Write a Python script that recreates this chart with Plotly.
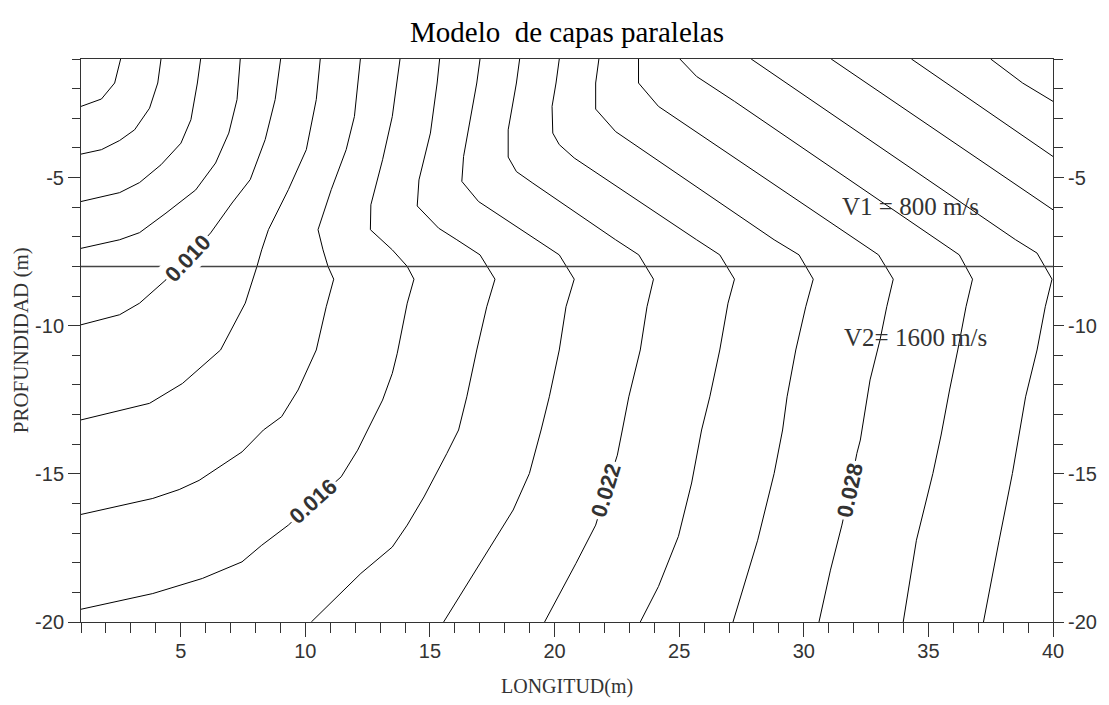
import plotly.graph_objects as go

# ---------------- data ----------------
title_text = "Modelo  de capas paralelas"
x_title = "LONGITUD(m)"
y_title = "PROFUNDIDAD (m)"

x_range = [1, 40]
y_range = [-20, -1]
x_tickvals = [5, 10, 15, 20, 25, 30, 35, 40]
y_tickvals = [-20, -15, -10, -5]
interface_depth = -8

levels = [0.002, 0.004, 0.006, 0.008, 0.010, 0.012, 0.014, 0.016, 0.018, 0.020,
          0.022, 0.024, 0.026, 0.028, 0.030, 0.032, 0.034, 0.036, 0.038]

c01_x = [2.59, 2.35, 1.82, 1.0]
c01_y = [-1.0, -1.81, -2.35, -2.60]
c02_x = [4.21, 4.08, 3.75, 3.15, 2.55, 1.82, 1.0]
c02_y = [-1.0, -1.81, -2.66, -3.39, -3.75, -4.06, -4.21]
c03_x = [5.80, 5.67, 5.41, 5.01, 4.21, 3.35, 2.55, 1.0]
c03_y = [-1.0, -1.81, -3.05, -3.84, -4.57, -5.17, -5.51, -5.81]
c04_x = [7.39, 7.26, 6.93, 6.40, 5.60, 4.41, 3.35, 2.55, 1.0]
c04_y = [-1.0, -2.37, -3.50, -4.51, -5.42, -6.20, -6.86, -7.10, -7.39]
c05_x = [9.01, 8.79, 8.39, 7.79, 7.06, 6.20, 5.27, 4.41, 3.35, 2.55, 1.0]
c05_y = [-1.0, -2.37, -3.72, -5.07, -5.86, -6.87, -7.72, -8.45, -9.24, -9.63, -9.97]
c06_x = [10.60, 10.44, 10.04, 9.32, 8.52, 8.25, 8.06, 7.59, 6.60, 5.07, 3.75, 1.0]
c06_y = [-1.0, -2.37, -4.06, -5.41, -6.76, -7.44, -8.0, -9.24, -10.82, -11.95, -12.62, -13.18]
c07_x = [12.21, 11.97, 11.64, 11.04, 10.51, 10.71, 10.91, 11.14, 10.84, 10.44, 9.71, 9.05,
         8.32, 7.46, 5.74, 4.94, 3.88, 1.0]
c07_y = [-1.0, -2.94, -4.06, -5.41, -6.76, -7.44, -8.0, -8.43, -9.36, -10.82, -12.17, -13.07,
         -13.52, -14.26, -15.22, -15.53, -15.83, -16.37]
c08_x = [13.80, 13.49, 13.10, 12.63, 12.61, 13.49, 14.09, 14.36, 14.09, 13.69, 13.49, 13.10,
         12.50, 12.10, 11.44, 10.31, 9.32, 8.25, 7.46, 5.87, 3.88, 1.0]
c08_y = [-1.0, -2.94, -4.40, -5.92, -6.76, -7.44, -8.0, -8.43, -9.24, -10.93, -11.61, -12.51,
         -13.52, -14.20, -15.10, -15.95, -16.73, -17.41, -17.97, -18.53, -19.04, -19.57]
c09_x = [15.39, 15.29, 15.02, 14.69, 14.56, 14.49, 15.35, 16.08, 17.01, 17.61, 17.28, 16.88,
         16.48, 16.15, 15.68, 14.76, 14.09, 13.49, 12.23, 10.24]
c09_y = [-1.0, -1.81, -3.50, -4.63, -5.08, -5.96, -6.71, -7.10, -7.61, -8.43, -9.36, -10.82,
         -12.40, -13.52, -14.31, -15.78, -16.73, -17.47, -18.36, -20.0]
c10_x = [17.01, 16.88, 16.35, 16.28, 16.95, 18.07, 19.27, 20.19, 20.79, 20.46, 20.19, 19.79,
         19.46, 18.99, 18.34, 17.01, 15.55]
c10_y = [-1.0, -1.81, -4.29, -5.13, -5.81, -6.43, -7.10, -7.61, -8.43, -9.36, -10.82, -12.40,
         -13.52, -14.99, -16.22, -18.02, -20.0]
c11_x = [18.60, 18.47, 18.14, 18.14, 18.47, 19.13, 22.45, 23.38, 23.97, 23.71, 23.44, 22.98,
         22.72, 22.52, 22.05, 21.65, 20.86, 19.60]
c11_y = [-1.0, -1.81, -3.39, -4.31, -4.80, -5.19, -7.10, -7.61, -8.43, -9.36, -10.82, -12.40,
         -13.52, -14.37, -15.61, -16.73, -18.02, -20.0]
c12_x = [20.19, 20.06, 19.90, 19.93, 20.19, 20.79, 25.70, 26.63, 27.22, 26.96, 26.63, 26.23,
         25.90, 25.50, 24.97, 24.17, 23.44]
c12_y = [-1.0, -1.81, -2.60, -3.50, -3.89, -4.34, -7.10, -7.61, -8.43, -9.24, -10.82, -12.40,
         -13.52, -15.31, -17.11, -18.80, -20.0]
c13_x = [21.78, 21.65, 21.65, 22.45, 28.81, 29.81, 30.38, 30.08, 29.68, 29.33, 29.15, 28.81,
         28.15, 27.62, 27.16]
c13_y = [-1.0, -1.81, -2.69, -3.45, -7.10, -7.61, -8.43, -9.36, -10.82, -12.40, -13.52, -14.99,
         -17.24, -18.70, -20.0]
c14_x = [23.37, 23.37, 24.17, 32.07, 33.00, 33.59, 33.33, 33.06, 32.66, 32.27, 32.13, 31.84,
         31.53, 31.07, 30.61]
c14_y = [-1.0, -1.81, -2.60, -7.10, -7.61, -8.43, -9.36, -10.48, -11.83, -13.86, -14.31, -15.55,
         -16.73, -18.25, -20.0]
c15_x = [25.03, 25.70, 27.22, 35.31, 36.24, 36.77, 36.51, 36.18, 35.85, 35.51, 35.18, 34.52, 33.99]
c15_y = [-1.0, -1.59, -2.43, -7.10, -7.61, -8.43, -9.36, -10.82, -12.17, -13.69, -14.99, -17.24, -20.0]
c16_x = [27.89, 38.50, 39.36, 39.96, 39.69, 39.36, 38.90, 38.65, 38.37, 37.84, 37.21]
c16_y = [-1.0, -7.10, -7.55, -8.43, -9.36, -10.82, -12.40, -13.69, -14.99, -17.24, -20.0]
c17_x = [31.10, 40.0]
c17_y = [-1.0, -6.09]
c18_x = [34.32, 40.0]
c18_y = [-1.0, -4.29]
c19_x = [37.50, 38.78, 40.0]
c19_y = [-1.0, -1.81, -2.43]

label_text = ["0.010", "0.016", "0.022", "0.028"]
label_x = [5.27, 10.31, 22.05, 31.84]
label_y = [-7.72, -15.95, -15.55, -15.55]

velocity_text = ["V1 = 800 m/s", "V2= 1600 m/s"]
velocity_x = [34.27, 34.47]
velocity_y = [-5.99, -10.41]

# ---------------- figure ----------------
contour_lines = [
    (c01_x, c01_y), (c02_x, c02_y), (c03_x, c03_y), (c04_x, c04_y), (c05_x, c05_y),
    (c06_x, c06_y), (c07_x, c07_y), (c08_x, c08_y), (c09_x, c09_y), (c10_x, c10_y),
    (c11_x, c11_y), (c12_x, c12_y), (c13_x, c13_y), (c14_x, c14_y), (c15_x, c15_y),
    (c16_x, c16_y), (c17_x, c17_y), (c18_x, c18_y), (c19_x, c19_y),
]

SANS = "Liberation Sans, Arial, sans-serif"
SERIF = "Liberation Serif, Times New Roman, serif"
AXIS_COLOR = "#333333"

fig = go.Figure()

for lev, (cx, cy) in zip(levels, contour_lines):
    fig.add_trace(go.Scatter(
        x=cx, y=cy, mode="lines",
        line=dict(color="black", width=1),
        name=f"{lev:.3f}", showlegend=False, hoverinfo="skip",
    ))

# interface between layers (drawn on the right-hand axis so that axis is rendered)
fig.add_trace(go.Scatter(
    x=x_range, y=[interface_depth, interface_depth], mode="lines",
    line=dict(color="#444444", width=1.5),
    yaxis="y2", showlegend=False, hoverinfo="skip",
))

label_angles = [-47, -42, -73, -78]
for t, lx, ly, ang in zip(label_text, label_x, label_y, label_angles):
    fig.add_annotation(
        x=lx, y=ly, xref="x", yref="y", text=t, showarrow=False,
        textangle=ang, bgcolor="white", borderpad=2,
        font=dict(family=SANS, size=22, color="#333333", weight="bold"),
    )

for t, vx, vy in zip(velocity_text, velocity_x, velocity_y):
    fig.add_annotation(
        x=vx, y=vy, xref="x", yref="y", text=t, showarrow=False,
        font=dict(family=SERIF, size=25, color="#333333"),
    )

# axis titles
fig.add_annotation(
    x=0.5, y=-0.115, xref="paper", yref="paper", text=x_title, showarrow=False,
    font=dict(family=SERIF, size=20, color="#333333"), yanchor="middle",
)
fig.add_annotation(
    x=-0.062, y=0.5, xref="paper", yref="paper", text=y_title, showarrow=False,
    textangle=-90, font=dict(family=SERIF, size=21, color="#333333"), xanchor="center",
)

tickfont = dict(family=SANS, size=20, color="#333333")

fig.update_layout(
    width=1109, height=705,
    margin=dict(l=81, r=48, t=59, b=83),
    paper_bgcolor="white", plot_bgcolor="white",
    showlegend=False,
    title=dict(
        text=title_text, x=0.5, xref="paper", xanchor="center",
        y=1 - 32 / 705, yref="container", yanchor="middle",
        font=dict(family=SERIF, size=29, color="black"),
    ),
    xaxis=dict(
        range=x_range, tickvals=x_tickvals, ticktext=[str(v) for v in x_tickvals],
        showgrid=False, zeroline=False, showline=True, linecolor=AXIS_COLOR, linewidth=1,
        mirror=True, ticks="outside", ticklen=14, tickwidth=1, tickcolor=AXIS_COLOR,
        minor=dict(dtick=1, tick0=0, ticks="outside", ticklen=10, tickwidth=1, tickcolor=AXIS_COLOR),
        tickfont=tickfont, ticklabelstandoff=-3,
    ),
    yaxis=dict(
        range=y_range, tickvals=y_tickvals, ticktext=[str(v) for v in y_tickvals],
        showgrid=False, zeroline=False, showline=True, linecolor=AXIS_COLOR, linewidth=1,
        ticks="outside", ticklen=12, tickwidth=1, tickcolor=AXIS_COLOR,
        minor=dict(dtick=1, tick0=0, ticks="outside", ticklen=8, tickwidth=1, tickcolor=AXIS_COLOR),
        tickfont=tickfont, ticklabelstandoff=0,
    ),
    yaxis2=dict(
        range=y_range, overlaying="y", side="right", matches="y",
        tickvals=y_tickvals, ticktext=[str(v) for v in y_tickvals],
        showgrid=False, zeroline=False, showline=True, linecolor=AXIS_COLOR, linewidth=1,
        ticks="outside", ticklen=10, tickwidth=1, tickcolor=AXIS_COLOR,
        minor=dict(dtick=1, tick0=0, ticks="outside", ticklen=9, tickwidth=1, tickcolor=AXIS_COLOR),
        tickfont=tickfont, ticklabelstandoff=0,
    ),
)

fig.write_html("out.html")
